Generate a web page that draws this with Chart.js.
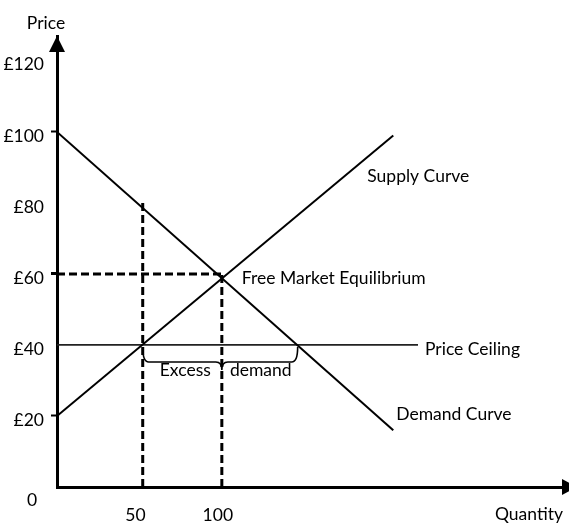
<!DOCTYPE html>
<html><head><meta charset="utf-8">
<script src="https://cdn.jsdelivr.net/npm/chart.js@4"></script>
<style>html,body{margin:0;padding:0;background:#fff}#wrap{width:569px;height:523px}</style>
</head><body><div id="wrap"><canvas id="c" width="569" height="523"></canvas></div>
<script>
// ---- data ----
const yTicks = [20, 40, 60, 80, 100, 120];
const xTicks = [50, 100];
const demandQ = [0, 204];   const demandP = [100, 16];
const supplyQ = [0, 204];   const supplyP = [20, 99];
const ceilingQ = [0, 219];  const ceilingP = [40, 40];
const eqQ = 100, eqP = 60;                 // free market equilibrium
const shortQ = [52, 146];                  // Qs and Qd at the price ceiling
const qsTopP = 80;                         // demand price at Qs
const FONT = 'Lato';
const FS = 17.5;

const pts = (xs, ys) => xs.map((x, i) => ({x, y: ys[i]}));
const solid = (data, w, c) => ({data, showLine: true, pointRadius: 0, borderColor: c || '#000', borderWidth: w, fill: false});
const dashed = data => ({data, showLine: true, pointRadius: 0, borderColor: '#000', borderWidth: 3, borderDash: [8, 4], fill: false});

const annot = {
  id: 'annot',
  afterDraw(chart) {
    const {ctx, scales: {x, y}, chartArea: ca} = chart;
    ctx.save();
    ctx.fillStyle = '#000'; ctx.strokeStyle = '#000';
    // arrowheads
    ctx.beginPath();
    ctx.moveTo(ca.left, ca.top); ctx.lineTo(ca.left - 8, ca.top + 16); ctx.lineTo(ca.left + 8, ca.top + 16); ctx.closePath(); ctx.fill();
    ctx.beginPath();
    ctx.moveTo(ca.right + 9, ca.bottom); ctx.lineTo(ca.right - 6, ca.bottom - 8); ctx.lineTo(ca.right - 6, ca.bottom + 8); ctx.closePath(); ctx.fill();
    // brace under the price ceiling
    const x1 = x.getPixelForValue(shortQ[0]), x2 = x.getPixelForValue(shortQ[1]);
    const xm = x.getPixelForValue(eqQ), y0 = y.getPixelForValue(ceilingP[0]);
    const hy = y0 + 17;
    ctx.lineWidth = 1.6;
    ctx.beginPath();
    ctx.moveTo(x1, y0 + 2);
    ctx.quadraticCurveTo(x1, hy, x1 + 6, hy);
    ctx.lineTo(xm - 6, hy);
    ctx.quadraticCurveTo(xm, hy, xm, hy + 8);
    ctx.moveTo(xm, hy + 8);
    ctx.quadraticCurveTo(xm, hy, xm + 6, hy);
    ctx.lineTo(x2 - 6, hy);
    ctx.quadraticCurveTo(x2, hy, x2, y0 + 2);
    ctx.stroke();
    // texts
    ctx.font = FS + 'px ' + FONT;
    ctx.textBaseline = 'middle';
    ctx.textAlign = 'center';
    ctx.fillText('Price', ca.left - 11, 23);
    ctx.fillText('0', ca.left - 25, ca.bottom + 13);
    ctx.fillText('Quantity', 529, ca.bottom + 27);
    ctx.textAlign = 'left';
    const sx = x.getPixelForValue(supplyQ[1]), sy = y.getPixelForValue(supplyP[1]);
    ctx.fillText('Supply Curve', sx - 26, sy + 41);
    const ex = x.getPixelForValue(eqQ), ey = y.getPixelForValue(eqP);
    ctx.fillText('Free Market Equilibrium', ex + 20, ey + 4);
    const cx = x.getPixelForValue(ceilingQ[1]);
    ctx.fillText('Price Ceiling', cx + 7, y0 + 4);
    const dx = x.getPixelForValue(demandQ[1]), dy = y.getPixelForValue(demandP[1]);
    ctx.fillText('Demand Curve', dx + 3, dy - 16);
    ctx.textAlign = 'center';
    ctx.fillText('Excess', (x1 + xm) / 2 + 3, hy + 8);
    ctx.fillText('demand', (xm + x2) / 2 + 1, hy + 8);
    ctx.restore();
  }
};

const markedTicks = [20, 60, 100];

new Chart(document.getElementById('c'), {
  type: 'scatter',
  data: {
    datasets: [
      solid(pts(demandQ, demandP), 2),
      solid(pts(supplyQ, supplyP), 2),
      solid(pts(ceilingQ, ceilingP), 1.8, '#222'),
      dashed(pts([shortQ[0], shortQ[0]], [0, qsTopP])),
      dashed(pts([eqQ, eqQ], [0, eqP])),
      dashed(pts([0, eqQ], [eqP, eqP]))
    ]
  },
  options: {
    responsive: false, animation: false, devicePixelRatio: 1,
    layout: {padding: {top: 36, right: 1, left: 0, bottom: 0}},
    plugins: {legend: {display: false}, tooltip: {enabled: false}},
    scales: {
      x: {
        type: 'linear', position: 'bottom', min: 0, max: 310,
        border: {color: '#000', width: 3},
        grid: {display: false, drawTicks: false},
        ticks: {color: '#000', font: {family: FONT, size: FS}, padding: 18, maxRotation: 0, labelOffset: -4},
        afterBuildTicks: s => { s.ticks = xTicks.map(v => ({value: v})); },
        afterFit: s => { s.height = 36; }
      },
      y: {
        type: 'linear', position: 'left', min: 0, max: 127,
        border: {color: '#000', width: 3},
        grid: {display: true, drawOnChartArea: false, drawTicks: true, tickLength: 6,
               tickColor: c => (c.tick && markedTicks.includes(c.tick.value)) ? '#000' : 'rgba(0,0,0,0)',
               tickWidth: c => (c.tick && c.tick.value === 60) ? 3 : 2},
        ticks: {color: '#000', font: {family: FONT, size: FS}, padding: 7, labelOffset: 4,
                callback: v => '£' + v},
        afterBuildTicks: s => { s.ticks = yTicks.map(v => ({value: v})); },
        afterFit: s => { s.width = 57; }
      }
    }
  },
  plugins: [annot]
});
</script>
</body></html>
